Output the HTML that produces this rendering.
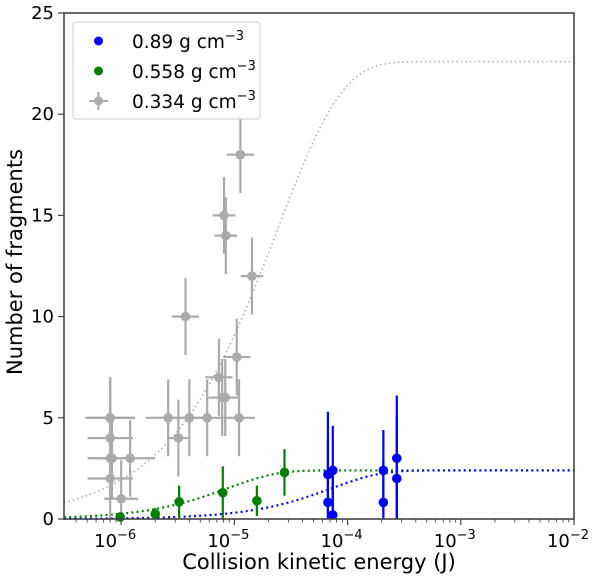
<!DOCTYPE html>
<html><head><meta charset="utf-8"><style>
body{margin:0;background:#fff;}
svg{display:block;font-family:"DejaVu Sans","Liberation Sans",sans-serif;}
</style></head><body>
<svg id="chart" width="600" height="577" viewBox="0 0 600 577" xmlns="http://www.w3.org/2000/svg">
<g id="curves"></g>
<g id="marks"></g>
<g id="axes"></g>
<text x="319" y="569" text-anchor="middle" font-size="21">Collision kinetic energy (J)</text>
<text transform="translate(22,262) rotate(-90)" text-anchor="middle" font-size="21">Number of fragments</text>
<g>
<rect x="73" y="22" width="187" height="97" rx="3" fill="#fff" fill-opacity="0.85" stroke="#ccc"/>
<circle cx="98.5" cy="41" r="4.5" fill="#0000ff"/>
<text x="132" y="48" font-size="18.5">0.89 g cm<tspan dy="-8" font-size="13">−3</tspan></text>
<circle cx="98.5" cy="71" r="4.5" fill="#008000"/>
<text x="132" y="78" font-size="18.5">0.558 g cm<tspan dy="-8" font-size="13">−3</tspan></text>
<line x1="89" y1="101" x2="108" y2="101" stroke="#aaa" stroke-width="2"/>
<line x1="98.5" y1="92" x2="98.5" y2="110" stroke="#aaa" stroke-width="2"/>
<circle cx="98.5" cy="101" r="4.5" fill="#aaa"/>
<text x="132" y="108" font-size="18.5">0.334 g cm<tspan dy="-8" font-size="13">−3</tspan></text>
</g>
</svg>
<script>
// ---- data ----
const grayE = [8.0e-7,8.0e-7,8.0e-7,8.0e-7,8.0e-7,8.3e-7,1.0e-6,1.2e-6,3.7e-6,2.6e-6,3.2e-6,4.0e-6,5.75e-6,7.3e-6,7.8e-6,8.3e-6,1.05e-5,1.1e-5,8.1e-6,8.4e-6,1.13e-5,1.43e-5];
const grayN = [5,5,4,3,2,3,1,3,10,5,4,5,5,7,6,6,8,5,15,14,18,12];
const grayXerr = [0.22,0.2,0.2,0.2,0.2,0.2,0.15,0.22,0.12,0.2,0.1,0.14,0.14,0.12,0.12,0.12,0.12,0.14,0.1,0.1,0.12,0.1];
const grayYerr = [2,2,2,2,2,2,1.9,1.9,1.9,1.9,1.9,1.9,1.9,1.9,1.9,1.9,1.9,1.9,1.9,1.9,1.9,1.9];
const greenE = [9.8e-7,2.0e-6,3.25e-6,7.9e-6,1.58e-5,2.77e-5];
const greenN = [0.1,0.25,0.85,1.3,0.9,2.3];
const greenYerr = [0.15,0.3,0.8,1.3,0.75,1.15];
const blueE = [6.7e-5,6.7e-5,7.4e-5,7.4e-5,2.07e-4,2.07e-4,2.72e-4,2.72e-4];
const blueN = [2.2,0.82,2.4,0.2,2.4,0.82,3.0,2.0];
const blueYerr = [3.1,3.1,2.2,2.2,2.0,2.0,3.1,3.1];
// fit curves: N = A*(1-exp(-10^(p*(log10E - Lc))))
const fitA = [22.6,2.4,2.4];
const fitP = [0.76,1.0,1.0];
const fitLc = [-4.62,-5.06,-4.14];
const fitColor = ['#aaaaaa','#008000','#0000ff'];
const xTicks = [-6,-5,-4,-3,-2];
const yTicks = [0,5,10,15,20,25];

// ---- axes ----
const X0=64,X1=574,Y0=519,Y1=13;
const Lmin=-6.505,Lmax=-2;
const xs = e => X0+(Math.log10(e)-Lmin)/(Lmax-Lmin)*(X1-X0);
const xl = L => X0+(L-Lmin)/(Lmax-Lmin)*(X1-X0);
const ys = v => Y0-v/25*(Y0-Y1);
const NS='http://www.w3.org/2000/svg';
function mk(tag,attrs,parent){const el=document.createElementNS(NS,tag);for(const k in attrs)el.setAttribute(k,attrs[k]);parent.appendChild(el);return el;}

const curves=document.getElementById('curves');
for(let s=0;s<3;s++){
  let d='';
  for(let px=X0;px<=X1;px+=1){
    const L=Lmin+(px-X0)/(X1-X0)*(Lmax-Lmin);
    const v=fitA[s]*(1-Math.exp(-Math.pow(10,fitP[s]*(L-fitLc[s]))));
    d+=(d?'L':'M')+px+','+ys(v).toFixed(2);
  }
  const p=mk('path',{d:d,fill:'none',stroke:fitColor[s],'stroke-width':s==0?1.5:2.2,'stroke-dasharray':s==0?'1.5,3':'2,3.2'},curves);
  
  
}

const marks=document.getElementById('marks');
function pts(E,N,Yerr,Xerr,col,name){
  for(let i=0;i<E.length;i++){
    const g=mk('g',{},marks);
    
    
    const x=xs(E[i]);
    const lo=Math.max(0,N[i]-Yerr[i]);
    mk('line',{x1:x,x2:x,y1:ys(lo),y2:ys(N[i]+Yerr[i]),stroke:col,'stroke-width':2.2},g);
    if(Xerr){const L=Math.log10(E[i]);mk('line',{x1:xl(L-Xerr[i]),x2:xl(L+Xerr[i]),y1:ys(N[i]),y2:ys(N[i]),stroke:col,'stroke-width':2.2},g);}
    mk('circle',{cx:x,cy:ys(N[i]),r:4.8,fill:col},g);
  }
}
pts(grayE,grayN,grayYerr,grayXerr,'#aaaaaa','gray');
pts(greenE,greenN,greenYerr,null,'#008000','green');
pts(blueE,blueN,blueYerr,null,'#0000ff','blue');

const axes=document.getElementById('axes');
mk('rect',{x:X0,y:Y1,width:X1-X0,height:Y0-Y1,fill:'none',stroke:'#444','stroke-width':1.6},axes);
for(const t of xTicks){
  const x=xl(t);
  mk('line',{x1:x,x2:x,y1:Y0,y2:Y0+6,stroke:'#444','stroke-width':1.2},axes);
  const tx=mk('text',{x:x-6,y:Y0+28,'text-anchor':'middle','font-size':18},axes);
  
  
  tx.innerHTML='10<tspan dy="-8" font-size="13">−'+(-t)+'</tspan>';
}
for(let d=-7;d<=-3;d++)for(let m=2;m<=9;m++){
  const L=d+Math.log10(m);if(L<Lmin||L>Lmax)continue;
  const x=xl(L);mk('line',{x1:x,x2:x,y1:Y0,y2:Y0+3.5,stroke:'#444','stroke-width':0.9},axes);
}
for(const t of yTicks){
  const y=ys(t);
  mk('line',{x1:X0-6,x2:X0,y1:y,y2:y,stroke:'#444','stroke-width':1.2},axes);
  const tx=mk('text',{x:X0-10,y:y+6,'text-anchor':'end','font-size':18},axes);
  
  
  tx.textContent=t;
}
</script>
</body></html>
